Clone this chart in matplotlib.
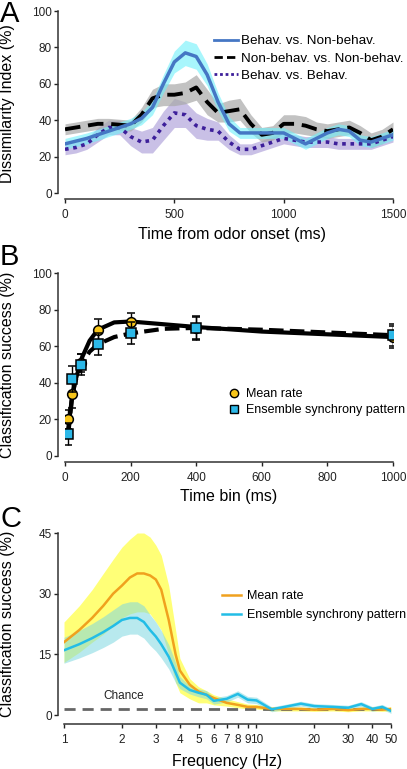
import numpy as np
import matplotlib.pyplot as plt
from matplotlib.lines import Line2D

plt.rcParams['font.family'] = ['Liberation Sans', 'DejaVu Sans']

# ---- Panel A : dissimilarity index ----
tA = np.array([0, 50, 100, 150, 200, 250, 300, 350, 400, 450, 500, 550, 600, 650, 700, 750,
               800, 850, 900, 950, 1000, 1050, 1100, 1150, 1200, 1250, 1300, 1350, 1400, 1450, 1500])
bvn = np.array([27, 28.5, 30, 32, 34, 36, 38, 41, 47, 60, 72, 77, 75, 65, 50, 38,
                33, 33, 33, 33, 33, 30, 27, 30, 33, 35, 34, 29, 28, 30, 32])
bvn_err = np.array([3, 3, 3, 3, 3, 3, 3, 3.5, 4, 5, 6, 7, 7, 6, 5, 4,
                    3, 3, 3, 3, 3, 3, 3, 3, 3, 3, 3, 3, 3, 3, 3])
nvn = np.array([35, 36, 37, 38, 38, 37.5, 37, 43, 52, 54, 54, 55, 58, 50, 44, 45,
                46, 38, 32, 33, 38, 38, 37, 35, 34, 35, 36, 33, 29, 31, 35])
nvn_err = np.array([3, 3, 3, 3, 3, 3, 3, 4, 5, 6, 6, 6, 7, 7, 5, 6,
                    6, 5, 4, 4, 5, 5, 5, 4, 4, 4, 4, 4, 4, 4, 4])
bvb = np.array([24, 25, 27, 32, 36, 36, 31, 28, 29, 37, 44, 43, 37, 35, 34, 28,
                24, 24, 26, 28, 30, 29, 28, 28, 28, 27, 27, 27, 27, 29, 31])
bvb_err = np.array([3, 3, 3, 4, 4, 4, 5, 6, 7, 8, 8, 7, 7, 6, 5, 4,
                    3, 3, 3, 3, 3, 3, 3, 3, 3, 3, 3, 3, 3, 3, 3])

# ---- Panel B : classification vs time bin ----
bins = np.array([10, 20, 50, 100, 200, 400, 1000])
rate_mean = np.array([20, 34, 51, 69, 73, 70, 65])
rate_err = np.array([5, 8, 5, 6, 5, 6, 6])
sync_mean = np.array([12, 42, 50, 61, 67, 70, 66])
sync_err = np.array([6, 7, 6, 6, 6, 6.5, 6])
fit_x = np.array([10, 20, 30, 50, 75, 100, 150, 200, 300, 400, 600, 800, 1000])
rate_fit = np.array([15, 30, 40, 53, 63, 69, 73, 73.5, 72, 70.5, 68, 66.5, 65])
sync_fit = np.array([12, 30, 40, 50, 57, 61, 65, 67, 69.5, 70, 69, 67.5, 66])

# ---- Panel C : classification vs frequency ----
fr = np.array([1, 1.2, 1.4, 1.6, 1.8, 2.0, 2.2, 2.4, 2.6, 2.8, 3.0, 3.2, 3.5, 3.8, 4.0, 4.5,
               5, 5.5, 6, 7, 8, 9, 10, 12, 14, 17, 20, 25, 30, 35, 40, 45, 50])
fr_rate = np.array([18, 21, 24, 27, 30, 32, 34, 35, 35, 34.5, 33.5, 31, 23.5, 15, 11, 7.5,
                    5.8, 5, 4.2, 3, 2.5, 2, 2, 1.5, 1.5, 1.5, 1.3, 1.5, 1.2, 1.5, 1.5, 1.3, 1.5])
fr_rate_lo = np.array([13, 15.5, 18, 20, 22, 24, 25, 25.5, 25.5, 25, 23, 21, 15, 8, 5.5, 4,
                       3, 3, 2.5, 2.2, 1.8, 1.5, 1.5, 1, 1, 1, 0.9, 1, 0.8, 1, 1, 0.9, 1])
fr_rate_hi = np.array([23, 27, 31, 35, 38.5, 41.5, 43.5, 45, 45, 44, 42, 39.5, 32, 21, 14, 9,
                       7, 6, 5, 4, 3.3, 2.7, 2.6, 2, 2, 2, 1.8, 2, 1.7, 2, 2, 1.8, 2])
fr_sync = np.array([16, 17.5, 19, 20.5, 22, 23.5, 24, 24, 23, 21, 19.4, 17.5, 14.4, 10.5, 8, 6.2,
                    5.5, 5, 3.5, 4, 5.2, 3.8, 3.6, 1.4, 2, 2.8, 2.2, 2, 1.8, 2.7, 1.5, 2, 1])
fr_sync_err = np.array([3.2, 3.4, 3.6, 3.8, 4, 4, 4, 4, 4, 3.8, 3.6, 3.4, 3, 2.5, 1.5, 1,
                        1, 1, 0.8, 0.8, 0.8, 0.8, 0.8, 0.6, 0.6, 0.6, 0.6, 0.6, 0.6, 0.6, 0.6, 0.6, 0.6])
chance = 1.5
freq_ticks = [1, 2, 3, 4, 5, 6, 7, 8, 9, 10, 20, 30, 40, 50]

W, H = 407, 769
fig = plt.figure(figsize=(W / 100, H / 100), dpi=100)

def box(l, r, t, b):
    return [l / W, 1 - b / H, (r - l) / W, (b - t) / H]

def style(ax, off_l, off_b):
    for s in ['top', 'right']:
        ax.spines[s].set_visible(False)
    ax.spines['left'].set_position(('outward', off_l * 0.72))
    ax.spines['bottom'].set_position(('outward', off_b * 0.72))
    ax.tick_params(labelsize=8.5, length=3, width=1, colors='#222222')
    ax.tick_params(axis='x', pad=4.5)
    ax.tick_params(axis='y', pad=1.5)
    for s in ['left', 'bottom']:
        ax.spines[s].set_linewidth(1.1)
        ax.spines[s].set_color('#333333')

# A
ax = fig.add_axes(box(65, 393, 11, 193))
ax.fill_between(tA, bvb - bvb_err, bvb + bvb_err, color='#b3a6dc', alpha=0.7, lw=0)
ax.fill_between(tA, nvn - nvn_err, nvn + nvn_err, color='#a8a8a8', alpha=0.7, lw=0)
ax.fill_between(tA, bvn - bvn_err, bvn + bvn_err, color='#6ff0fa', alpha=0.6, lw=0)
ax.plot(tA, bvb, color='#3d1f9a', lw=2.6, ls=(0, (1, 1.3)))
ax.plot(tA, nvn, color='black', lw=2.8, ls=(0, (4, 2)))
ax.plot(tA, bvn, color='#4577c4', lw=2.5)
ax.set_xlim(0, 1500)
ax.set_ylim(0, 100)
ax.set_xticks([0, 500, 1000, 1500])
ax.set_yticks([0, 20, 40, 60, 80, 100])
style(ax, 7, 6)
ax.set_xlabel('Time from odor onset (ms)', fontsize=11.5)
ax.set_ylabel('Dissimilarity Index (%)', fontsize=11.5)
ax.xaxis.set_label_coords(0.51, -0.185)
ax.yaxis.set_label_coords(-0.152, 0.49)
hA = [Line2D([], [], color='#4577c4', lw=2),
      Line2D([], [], color='black', lw=2, ls=(0, (3, 1.5))),
      Line2D([], [], color='#3d1f9a', lw=2, ls=(0, (1, 1)))]
ax.legend(hA, ['Behav. vs. Non-behav.', 'Non-behav. vs. Non-behav.', 'Behav. vs. Behav.'],
          loc='upper left', bbox_to_anchor=(214 / W, 1 - 35 / H),
          bbox_transform=fig.transFigure, frameon=False, fontsize=9.7,
          handlelength=1.8, handletextpad=0.2, labelspacing=0.35, borderpad=0, borderaxespad=0)
fig.text(0.0, 1.0, 'A', fontsize=21, va='top', ha='left')

# B
ax = fig.add_axes(box(65, 393, 273, 456))
ax.plot(fit_x, sync_fit, color='black', lw=3, ls=(0, (3.5, 1.5)), zorder=2)
ax.plot(fit_x, rate_fit, color='black', lw=3, zorder=2)
ax.errorbar(bins, rate_mean, yerr=rate_err, fmt='o', ms=7, mfc='#f7c51a', mec='black', mew=1.1,
            ecolor='black', elinewidth=1, capsize=3, capthick=1, zorder=3)
ax.errorbar(bins, sync_mean, yerr=sync_err, fmt='s', ms=7, mfc='#2cb8e8', mec='black', mew=1.1,
            ecolor='black', elinewidth=1, capsize=3, capthick=1, zorder=4)
ax.set_xlim(0, 1000)
ax.set_ylim(0, 100)
ax.set_xticks(np.arange(0, 1001, 200))
ax.set_yticks(np.arange(0, 101, 20))
style(ax, 7, 6)
ax.set_xlabel('Time bin (ms)', fontsize=11.5)
ax.set_ylabel('Classification success (%)', fontsize=11.5)
ax.xaxis.set_label_coords(0.5, -0.18)
ax.yaxis.set_label_coords(-0.152, 0.5)
hB = [Line2D([], [], ls='none', marker='o', ms=6, mfc='#f7c51a', mec='black', mew=1),
      Line2D([], [], ls='none', marker='s', ms=6, mfc='#2cb8e8', mec='black', mew=1)]
ax.legend(hB, ['Mean rate', 'Ensemble synchrony pattern'], loc='upper left',
          bbox_to_anchor=(228 / W, 1 - 388 / H), bbox_transform=fig.transFigure,
          frameon=False, fontsize=9, handlelength=1.0, handletextpad=0.45, labelspacing=0.35,
          borderpad=0, borderaxespad=0)
fig.text(0.0, 1 - 243 / H, 'B', fontsize=21, va='top', ha='left')

# C
ax = fig.add_axes(box(64, 391, 533, 715))
ax.fill_between(fr, fr_rate_lo, fr_rate_hi, color='#ffff55', alpha=0.8, lw=0)
ax.fill_between(fr, fr_sync - fr_sync_err, fr_sync + fr_sync_err, color='#7fd8e0', alpha=0.55, lw=0)
ax.plot(fr, fr_rate, color='#f0a11e', lw=1.8, label='Mean rate')
ax.plot(fr, fr_sync, color='#22bde6', lw=1.8, label='Ensemble synchrony pattern')
ax.axhline(chance, color='#666666', lw=2, ls=(0, (4, 2.5)), zorder=1)
ax.text(2.05, 3.2, 'Chance', fontsize=8.5, ha='center', va='bottom', color='#222222')
ax.set_xscale('log')
ax.set_xlim(1, 50)
ax.set_ylim(0, 45)
ax.set_xticks(freq_ticks)
ax.set_xticklabels([str(f) for f in freq_ticks])
ax.xaxis.set_minor_locator(plt.NullLocator())
ax.set_yticks([0, 15, 30, 45])
style(ax, 6, 9)
ax.set_xlabel('Frequency (Hz)', fontsize=11.5)
ax.set_ylabel('Classification success (%)', fontsize=11.5)
ax.xaxis.set_label_coords(0.5, -0.215)
ax.yaxis.set_label_coords(-0.149, 0.5)
ax.legend(loc='upper left', bbox_to_anchor=(222 / W, 1 - 590 / H), bbox_transform=fig.transFigure,
          frameon=False, fontsize=9, handlelength=1.5, handletextpad=0.5, labelspacing=0.55,
          borderpad=0, borderaxespad=0)
fig.text(0.0, 1 - 505 / H, 'C', fontsize=21, va='top', ha='left')

fig.savefig('out.png', dpi=100)
